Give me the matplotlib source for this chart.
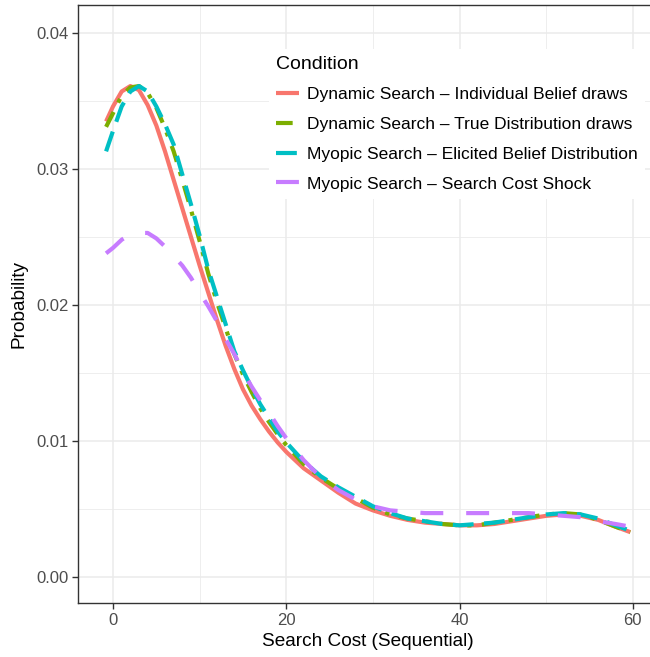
import matplotlib
matplotlib.use("Agg")
import matplotlib.pyplot as plt
from matplotlib.ticker import MultipleLocator

plt.rcParams['font.family'] = ['Liberation Sans', 'DejaVu Sans']

# Density curves
x_red = [-0.8, 0, 1, 2, 3, 4, 5, 6, 7, 8, 9, 10, 11, 12, 13, 14, 15, 16, 17, 18, 19, 20,
         22, 24, 26, 28, 30, 32, 34, 36, 38, 40, 42, 44, 46, 48, 50, 52, 54, 56, 58, 59.7]
y_red = [0.0335, 0.0346, 0.0357, 0.0361, 0.0358, 0.0347, 0.0332, 0.0313, 0.0292, 0.0271,
         0.0250, 0.0229, 0.0209, 0.0189, 0.0170, 0.0153, 0.0138, 0.0126, 0.0116, 0.0107,
         0.0099, 0.0092, 0.0080, 0.0071, 0.0062, 0.0054, 0.0049, 0.0045, 0.0042, 0.0040,
         0.0039, 0.0038, 0.0038, 0.0039, 0.0041, 0.0043, 0.0045, 0.0046, 0.0045, 0.0042,
         0.0037, 0.0033]

x_green = x_red
y_green = [0.0331, 0.0341, 0.0354, 0.0360, 0.0361, 0.0356, 0.0345, 0.0330, 0.0313, 0.0292,
           0.0270, 0.0247, 0.0223, 0.0202, 0.0183, 0.0164, 0.0149, 0.0136, 0.0124, 0.0114,
           0.0105, 0.0097, 0.0083, 0.0073, 0.0065, 0.0058, 0.0051, 0.0046, 0.0043, 0.0041,
           0.0039, 0.0038, 0.0038, 0.0040, 0.0042, 0.0044, 0.0046, 0.0047, 0.0046, 0.0042,
           0.0037, 0.0033]

x_teal = x_red
y_teal = [0.0313, 0.0328, 0.0346, 0.0357, 0.0361, 0.0357, 0.0346, 0.0333, 0.0318, 0.0296,
          0.0274, 0.0251, 0.0226, 0.0206, 0.0186, 0.0166, 0.0152, 0.0139, 0.0127, 0.0117,
          0.0107, 0.0099, 0.0085, 0.0074, 0.0066, 0.0059, 0.0052, 0.0047, 0.0043, 0.0041,
          0.0039, 0.0038, 0.0039, 0.0040, 0.0042, 0.0044, 0.0046, 0.0047, 0.0046, 0.0043,
          0.0038, 0.0034]

x_purple = [-0.8, 0, 1, 2, 3, 4, 5, 6, 7, 8, 9, 10, 11, 12, 13, 14, 15, 16, 17, 18, 19, 20,
            21, 22, 24, 26, 28, 30, 32, 34, 36, 38, 40, 42, 44, 46, 48, 50, 52, 54, 56, 58, 59.7]
y_purple = [0.0238, 0.0242, 0.0248, 0.0252, 0.0253, 0.0253, 0.0249, 0.0243, 0.0236, 0.0229,
            0.0220, 0.0209, 0.0199, 0.0188, 0.0175, 0.0164, 0.0151, 0.0140, 0.0130, 0.0121,
            0.0111, 0.0102, 0.0094, 0.0086, 0.0073, 0.0064, 0.0057, 0.0052, 0.0049, 0.0048,
            0.0047, 0.0047, 0.0047, 0.0047, 0.0047, 0.0047, 0.0047, 0.0046, 0.0045, 0.0044,
            0.0041, 0.0039, 0.0037]

labels = ["Dynamic Search \u2013 Individual Belief draws",
          "Dynamic Search \u2013 True Distribution draws",
          "Myopic Search \u2013 Elicited Belief Distribution",
          "Myopic Search \u2013 Search Cost Shock"]

fig = plt.figure(figsize=(6.5, 6.57), dpi=100)
ax = fig.add_axes([78 / 650, 54 / 657, 580 / 650, 598 / 657])

lw = 3.0
ax.plot(x_red, y_red, color="#F8766D", lw=lw, label=labels[0], solid_capstyle="butt")
ax.plot(x_green, y_green, color="#7CAE00", lw=lw, label=labels[1], dashes=(4, 2.5, 1, 2.5))
ax.plot(x_teal, y_teal, color="#00BFC4", lw=lw, label=labels[2], dashes=(5, 2.5))
ax.plot(x_purple, y_purple, color="#C77CFF", lw=lw, label=labels[3], dashes=(5.5, 5.5))

ax.set_xlim(-4.04, 62.9)
ax.set_ylim(-0.00191, 0.04206)
ax.xaxis.set_major_locator(MultipleLocator(20))
ax.xaxis.set_minor_locator(MultipleLocator(10))
ax.yaxis.set_minor_locator(MultipleLocator(0.005))
ax.set_yticks([0, 0.01, 0.02, 0.03, 0.04])
ax.set_yticklabels(["0.00", "0.01", "0.02", "0.03", "0.04"])

ax.grid(True, which="major", color="#EBEBEB", lw=1.1)
ax.grid(True, which="minor", color="#EBEBEB", lw=0.6)
ax.set_axisbelow(True)
for s in ax.spines.values():
    s.set_color("#333333")
    s.set_linewidth(1.0)
ax.tick_params(which="major", length=4, width=1, color="#333333",
               labelcolor="#4D4D4D", labelsize=12, pad=3)
ax.tick_params(which="minor", length=0)

ax.set_xlabel("Search Cost (Sequential)", fontsize=13.7, labelpad=3.5)
ax.set_ylabel("Probability", fontsize=13.7, labelpad=6)

leg = ax.legend(title="Condition", loc="upper left", bbox_to_anchor=(260 / 650, 1 - 40 / 657),
                bbox_transform=fig.transFigure, frameon=True, facecolor="white",
                edgecolor="none", framealpha=1, fancybox=False, fontsize=12.5,
                title_fontsize=14, handlelength=1.35, handletextpad=0.45,
                labelspacing=0.84, borderpad=0.4, alignment="left")

fig.savefig("out.png", dpi=100)
